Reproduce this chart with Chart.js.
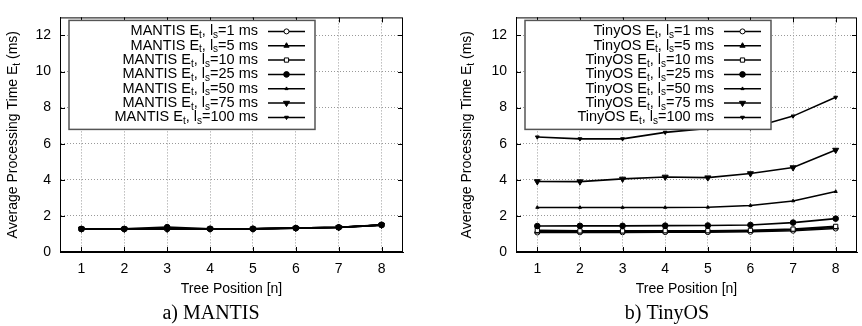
<!DOCTYPE html>
<html>
<head>
<meta charset="utf-8">
<script src="https://cdn.jsdelivr.net/npm/chart.js@4.4.1/dist/chart.umd.min.js"></script>
<style>
  body { margin: 0; background: #fff; }
  #wrap { position: relative; width: 862px; height: 326px; }
  canvas { position: absolute; top: 0; }
</style>
</head>
<body>
<div id="wrap">
  <canvas id="mantisChart" width="431" height="326" style="left:0px"></canvas>
  <canvas id="tinyosChart" width="431" height="326" style="left:431px"></canvas>
</div>
<script>
// x categories and y ticks
var treePositions = ['1', '2', '3', '4', '5', '6', '7', '8'];
var yTicks = [0, 2, 4, 6, 8, 10, 12];
var sleepIntervals = ['1', '5', '10', '25', '50', '75', '100'];

// MANTIS processing time (ms), one array per sleep interval
var mantis_1ms   = [1.27, 1.27, 1.27, 1.28, 1.28, 1.32, 1.36, 1.49];
var mantis_5ms   = [1.28, 1.28, 1.30, 1.28, 1.29, 1.33, 1.37, 1.50];
var mantis_10ms  = [1.27, 1.28, 1.28, 1.28, 1.28, 1.32, 1.36, 1.49];
var mantis_25ms  = [1.28, 1.28, 1.38, 1.29, 1.29, 1.33, 1.37, 1.51];
var mantis_50ms  = [1.27, 1.28, 1.28, 1.28, 1.29, 1.33, 1.37, 1.50];
var mantis_75ms  = [1.28, 1.27, 1.27, 1.28, 1.28, 1.32, 1.36, 1.49];
var mantis_100ms = [1.27, 1.28, 1.29, 1.28, 1.29, 1.33, 1.37, 1.50];

// TinyOS processing time (ms)
var tinyos_1ms   = [1.08, 1.09, 1.09, 1.10, 1.10, 1.12, 1.18, 1.30];
var tinyos_5ms   = [1.13, 1.14, 1.14, 1.15, 1.15, 1.17, 1.23, 1.36];
var tinyos_10ms  = [1.20, 1.17, 1.17, 1.18, 1.18, 1.20, 1.27, 1.42];
var tinyos_25ms  = [1.44, 1.45, 1.45, 1.46, 1.47, 1.50, 1.63, 1.85];
var tinyos_50ms  = [2.47, 2.47, 2.47, 2.47, 2.48, 2.58, 2.83, 3.35];
var tinyos_75ms  = [3.91, 3.90, 4.05, 4.16, 4.12, 4.35, 4.68, 5.65];
var tinyos_100ms = [6.37, 6.27, 6.27, 6.63, 6.85, 6.86, 7.53, 8.57];

var mantisSeries = [mantis_1ms, mantis_5ms, mantis_10ms, mantis_25ms, mantis_50ms, mantis_75ms, mantis_100ms];
var tinyosSeries = [tinyos_1ms, tinyos_5ms, tinyos_10ms, tinyos_25ms, tinyos_50ms, tinyos_75ms, tinyos_100ms];

// gnuplot-like point types
var markers = [
  { style: 'circle',   radius: 2.5, rot: 0,   fill: '#fff' },
  { style: 'triangle', radius: 3,   rot: 0,   fill: '#000' },
  { style: 'rect',     radius: 3,   rot: 0,   fill: '#fff' },
  { style: 'circle',   radius: 2.8, rot: 0,   fill: '#000' },
  { style: 'triangle', radius: 1.8, rot: 0,   fill: '#000' },
  { style: 'triangle', radius: 3.5, rot: 180, fill: '#000' },
  { style: 'triangle', radius: 2.2, rot: 180, fill: '#000' }
];

var SANS = "'Liberation Sans', Arial, Helvetica, sans-serif";

function drawRich(ctx, parts, x, y, align, size) {
  var subSize = Math.round(size * 0.72);
  var total = 0;
  parts.forEach(function(p) {
    ctx.font = (p.sub ? subSize : size) + 'px ' + SANS;
    p.w = ctx.measureText(p.t).width;
    total += p.w;
  });
  var cx = align === 'right' ? x - total : (align === 'center' ? x - total / 2 : x);
  ctx.textAlign = 'left';
  ctx.textBaseline = 'middle';
  parts.forEach(function(p) {
    ctx.font = (p.sub ? subSize : size) + 'px ' + SANS;
    ctx.fillText(p.t, cx, p.sub ? y + 4 : y);
    cx += p.w;
  });
}

function drawMarker(ctx, m, x, y) {
  ctx.save();
  ctx.fillStyle = m.fill;
  ctx.strokeStyle = '#000';
  ctx.lineWidth = 1;
  Chart.helpers.drawPoint(ctx, { pointStyle: m.style, radius: m.radius, rotation: m.rot, borderWidth: 1 }, x, y);
  ctx.restore();
}

var gnuplotDecor = {
  id: 'gnuplotDecor',
  afterDatasetsDraw: function(chart, args, opts) {
    var ctx = chart.ctx;
    var a = chart.chartArea;
    var xs = chart.scales.x, ys = chart.scales.y;
    ctx.save();
    // frame
    ctx.strokeStyle = '#000';
    ctx.lineWidth = 1;
    ctx.strokeRect(a.left + 0.5, a.top + 0.5, a.right - a.left - 1, a.bottom - a.top - 1);
    // inward tick marks on all four sides
    ctx.beginPath();
    treePositions.forEach(function(p, i) {
      var px = Math.round(xs.getPixelForValue(i)) + 0.5;
      ctx.moveTo(px, a.bottom); ctx.lineTo(px, a.bottom - 5);
      ctx.moveTo(px, a.top); ctx.lineTo(px, a.top + 5);
    });
    yTicks.forEach(function(v) {
      var py = Math.round(ys.getPixelForValue(v)) + 0.5;
      ctx.moveTo(a.left, py); ctx.lineTo(a.left + 5, py);
      ctx.moveTo(a.right, py); ctx.lineTo(a.right - 5, py);
    });
    ctx.stroke();

    // legend box
    var bx = a.left + 9, by = a.top + 3, bw = 246, bh = 109;
    ctx.fillStyle = '#fff';
    ctx.fillRect(bx, by, bw, bh);
    ctx.strokeStyle = '#555';
    ctx.lineWidth = 1.5;
    ctx.strokeRect(bx, by, bw, bh);
    ctx.fillStyle = '#000';
    sleepIntervals.forEach(function(s, i) {
      var ry = by + 11 + i * 14.33;
      drawRich(ctx, [
        { t: opts.name + ' E' }, { t: 't', sub: true }, { t: ', l' }, { t: 's', sub: true }, { t: '=' + s + ' ms' }
      ], bx + 189, ry, 'right', 14.5);
      ctx.strokeStyle = '#000';
      ctx.lineWidth = 1.5;
      ctx.beginPath();
      ctx.moveTo(bx + 199, ry); ctx.lineTo(bx + 236, ry);
      ctx.stroke();
      drawMarker(ctx, markers[i], bx + 217.5, ry);
    });

    // y axis title with subscript
    ctx.save();
    ctx.translate(opts.yTitleX, (a.top + a.bottom) / 2);
    ctx.rotate(-Math.PI / 2);
    ctx.fillStyle = '#000';
    drawRich(ctx, [{ t: 'Average Processing Time E' }, { t: 't', sub: true }, { t: ' (ms)' }], 0, 0, 'center', 14);
    ctx.restore();

    // caption
    ctx.fillStyle = '#000';
    ctx.font = "20px 'Liberation Serif', 'Times New Roman', serif";
    ctx.textAlign = 'center';
    ctx.textBaseline = 'middle';
    ctx.fillText(opts.caption, opts.captionX, 314);
    ctx.restore();
  }
};

function makeChart(canvasId, name, series, yAxisWidth, padRight, yTitleX, caption, captionX) {
  var datasets = series.map(function(values, i) {
    var m = markers[i];
    return {
      label: name + ' Et, ls=' + sleepIntervals[i] + ' ms',
      data: values,
      order: series.length - i,
      borderColor: '#000',
      borderWidth: 1.6,
      backgroundColor: m.fill,
      pointStyle: m.style,
      pointRadius: m.radius,
      pointRotation: m.rot,
      pointBorderColor: '#000',
      pointBorderWidth: 1,
      tension: 0
    };
  });
  return new Chart(document.getElementById(canvasId), {
    type: 'line',
    data: { labels: treePositions, datasets: datasets },
    options: {
      responsive: false,
      animation: false,
      layout: { padding: { top: 10, right: padRight, bottom: 26, left: 0 } },
      plugins: {
        legend: { display: false },
        tooltip: { enabled: false },
        gnuplotDecor: { name: name, yTitleX: yTitleX, caption: caption, captionX: captionX }
      },
      scales: {
        x: {
          type: 'category',
          offset: true,
          grid: { offset: false, color: '#999', lineWidth: 1, drawTicks: false },
          border: { display: true, color: '#000', dash: [1, 2] },
          ticks: { color: '#000', font: { family: SANS, size: 14 }, padding: 9, autoSkip: false, maxRotation: 0 },
          title: { display: true, text: 'Tree Position [n]', color: '#000', font: { family: SANS, size: 14 }, padding: { top: 0, bottom: 2 } },
          afterFit: function(s) { s.height = 48; }
        },
        y: {
          min: 0,
          max: 13,
          grid: { color: '#999', lineWidth: 1, drawTicks: false },
          border: { display: true, color: '#000', dash: [1, 2] },
          ticks: { color: '#000', font: { family: SANS, size: 14 }, padding: 9 },
          afterBuildTicks: function(s) { s.ticks = yTicks.map(function(v) { return { value: v }; }); },
          afterFit: function(s) { s.width = yAxisWidth; }
        }
      }
    },
    plugins: [gnuplotDecor]
  });
}

makeChart('mantisChart', 'MANTIS', mantisSeries, 60, 28, 13, 'a) MANTIS', 211);
makeChart('tinyosChart', 'TinyOS', tinyosSeries, 85, 3, 36, 'b) TinyOS', 236);
</script>
</body>
</html>
